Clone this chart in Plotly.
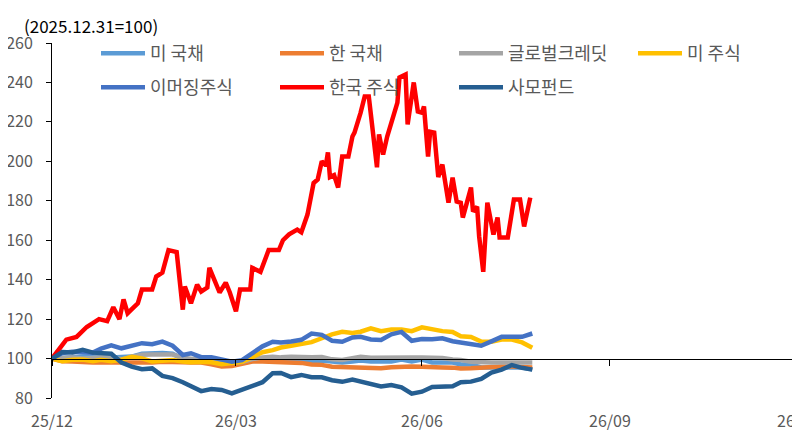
import pandas as pd
import plotly.graph_objects as go

BASE_DATE = pd.Timestamp("2025-12-31")

# common sampling grid (days after 2025-12-31) for the six calmer series
grid_days = [0, 5, 10, 15, 20, 24, 29, 34, 39, 44, 49, 54, 59, 64, 68, 73, 78,
             83, 88, 93, 98, 103, 108, 112, 117, 122, 127, 132, 137, 142, 147,
             151, 156, 161, 166, 171, 176, 181, 186, 191, 196, 200, 205, 210,
             215, 220, 225, 230, 235]

us_bond = [100, 100.5, 101, 101, 101, 100.5, 100.5, 100.5, 101, 102.5, 102.8,
           102.8, 102.5, 99.8, 99.5, 99, 98.5, 98, 97.8, 98, 99, 99.5, 99.8,
           99.5, 99.5, 99, 98.8, 99, 98.5, 98, 98.5, 99, 98.5, 98.5, 98.5,
           99.5, 98.5, 99.5, 98, 98, 98, 97, 97, 95.5, 95.5, 95.5, 95.5, 95.5,
           94.5]

kr_bond = [100, 98.6, 98.5, 98.1, 98, 98, 98, 97.6, 98, 98, 98, 98.4, 98.5,
           98.1, 98, 98, 97.1, 96, 96.2, 97.3, 98.5, 98.5, 98.4, 98, 98, 97.8,
           97, 96.8, 95.9, 95.7, 96, 95.8, 95.4, 95.1, 95.6, 96, 96, 95.9,
           95.5, 95.5, 95.4, 95, 95.1, 95.5, 95.6, 96, 96, 95.9, 95.5]

global_credit = [100, 100.5, 100.5, 100, 100.5, 100.5, 100.5, 99.6, 100.9,
                 101.9, 102, 102, 102, 100.4, 99.9, 99.3, 98.4, 98, 98, 98.2,
                 99.7, 100.6, 100.9, 100.6, 100.9, 100.5, 100.6, 100.8, 99.6,
                 99.3, 99.9, 100.9, 100.4, 100.5, 100.6, 100.9, 100.5, 100.5,
                 100.5, 100.3, 99.5, 99.3, 98.4, 98, 98, 98, 98.1, 98, 98]

us_stock = [100, 98.6, 99.4, 99.5, 98.6, 99.4, 98.6, 99.4, 100.9, 100.1, 98.5,
            98.7, 99.2, 98.5, 98.1, 98.4, 98.1, 97.1, 97.6, 98.4, 100.7, 103.2,
            104.3, 105.6, 106.5, 107.5, 108.3, 110.3, 112.3, 113.6, 113, 113.6,
            115.3, 113.9, 114.7, 114.7, 113.9, 115.8, 114.7, 113.9, 113.5,
            111.3, 110.9, 108.6, 108.5, 109.6, 109.6, 108.2, 105.5]

em_stock = [100, 102.8, 103.5, 103.5, 103, 105, 106.7, 105.2, 106.5, 107.8,
            107.3, 108.6, 106.5, 101.8, 102.7, 100.7, 100.6, 99.3, 98.4, 99.2,
            103, 106.2, 108.5, 108.2, 108.6, 109.5, 112.7, 112, 109, 108.5,
            110.7, 111, 109.7, 109.4, 112.3, 113.5, 109, 109.9, 109.8, 110.3,
            108.8, 108, 107.2, 106.5, 108.7, 111, 111, 111, 112.7]

pe_fund = [100, 103.3, 103.1, 104.4, 103, 102.8, 102.4, 98, 95.9, 94.6, 95,
           91.2, 90.1, 88, 86.1, 83.5, 84.5, 84.1, 82.4, 84.3, 85.7, 88, 92.6,
           92.7, 90.6, 91.7, 90.5, 90.5, 89, 88.2, 89.4, 88.5, 87.2, 85.9,
           86.6, 85.4, 82.2, 83.2, 85.6, 85.7, 86, 88, 88.3, 89.7, 92.9, 94.4,
           96.7, 95.3, 94.4]

# Korean equities move a lot, so they get their own finer set of readings
kr_days = [0, 7, 12, 17, 20, 23, 27, 30, 33, 35, 37, 42, 44, 49, 51, 54, 57,
           61, 64, 65, 68, 71, 73, 76, 77, 82, 85, 87, 90, 92, 97, 98, 102,
           106, 111, 113, 116, 120, 122, 125, 128, 130, 132, 134, 135, 136,
           138, 140, 142, 145, 147, 148, 151, 153, 155, 157, 159, 160, 162,
           164, 169, 170, 173, 174, 176, 177, 179, 181, 182, 184, 185, 187,
           189, 191, 194, 196, 198, 200, 201, 205, 206, 208, 209, 211, 213,
           216, 218, 219, 223, 226, 229, 231, 234]
kr_stock = [100, 109.6, 111, 116, 118, 120, 119, 126, 120, 130, 123, 128, 135,
            135, 141.6, 143.6, 155, 154, 124.8, 136.5, 128, 137.5, 134, 136,
            146, 133.5, 138.5, 133.5, 124, 135, 135, 146, 144, 155, 155, 160,
            163, 165.4, 164, 173, 189, 190.8, 200, 198, 204.5, 192, 193, 186.7,
            202.4, 202.4, 212.6, 214.6, 224.7, 232.9, 232.9, 216, 197, 213.6,
            203.4, 212.6, 229.8, 242.5, 244, 218.7, 232.9, 240, 225.3, 224.7,
            227.8, 202.4, 215, 214.6, 192, 198.4, 179, 191.8, 179.6, 179, 171.5,
            186.7, 174.5, 177, 161.9, 144, 179, 162.9, 171.5, 161.4, 161.4,
            180.6, 180.6, 167, 181.6]

tick_dates = ["2025-12-31", "2026-03-31", "2026-06-30", "2026-09-30", "2026-12-31"]
y_min, y_max = 80, 260

grid_x = BASE_DATE + pd.to_timedelta(grid_days, unit="D")
kr_x = BASE_DATE + pd.to_timedelta(kr_days, unit="D")

series = [
    ("미 국채", grid_x, us_bond, "#5B9BD5", "legend"),
    ("한 국채", grid_x, kr_bond, "#ED7D31", "legend"),
    ("글로벌크레딧", grid_x, global_credit, "#A5A5A5", "legend"),
    ("미 주식", grid_x, us_stock, "#FFC000", "legend"),
    ("이머징주식", grid_x, em_stock, "#4472C4", "legend2"),
    ("한국 주식", kr_x, kr_stock, "#FF0000", "legend2"),
    ("사모펀드", grid_x, pe_fund, "#255E91", "legend2"),
]

FONT = "Noto Sans CJK KR"
GREY = "#595959"
PAGE_PAD = 8  # the page body adds 8px before the figure

fig = go.Figure()
for name, xs, ys, color, leg in series:
    fig.add_trace(
        go.Scatter(
            x=xs,
            y=ys,
            mode="lines",
            name=name,
            legend=leg,
            line=dict(color=color, width=4.5),
        )
    )

legend_style = dict(
    orientation="h",
    xref="container",
    yref="container",
    x=(96 - PAGE_PAD) / 800,
    xanchor="left",
    yanchor="top",
    entrywidth=120,
    entrywidthmode="pixels",
    itemwidth=44,
    font=dict(family=FONT, size=18, color=GREY),
    bgcolor="rgba(0,0,0,0)",
    itemclick=False,
)

fig.update_layout(
    width=800,
    height=440,
    margin=dict(l=52 - PAGE_PAD, r=2 + PAGE_PAD, t=43 - PAGE_PAD,
                b=42 + PAGE_PAD, autoexpand=False),
    plot_bgcolor="white",
    paper_bgcolor="white",
    font=dict(family=FONT, size=16, color=GREY),
    legend=dict(legend_style, y=1 - (35 - PAGE_PAD) / 440),
    legend2=dict(legend_style, y=1 - (69 - PAGE_PAD) / 440),
    xaxis=dict(
        type="date",
        range=[tick_dates[0], tick_dates[-1]],
        tickvals=tick_dates,
        tickformat="%y/%m",
        anchor="free",
        position=(100 - y_min) / (y_max - y_min),
        showline=True,
        linecolor="black",
        linewidth=1,
        ticks="outside",
        ticklen=6,
        tickcolor="black",
        ticklabelstandoff=42,
        ticklabeloverflow="allow",
        showgrid=False,
        zeroline=False,
        automargin=False,
        tickfont=dict(family=FONT, size=16, color=GREY),
    ),
    yaxis=dict(
        range=[y_min, y_max],
        dtick=20,
        showline=True,
        linecolor="black",
        linewidth=1,
        ticks="outside",
        ticklen=5,
        tickcolor="black",
        ticklabelstandoff=10,
        showgrid=False,
        zeroline=False,
        automargin=False,
        tickfont=dict(family=FONT, size=16, color=GREY),
    ),
    annotations=[
        dict(
            text="(2025.12.31=100)",
            xref="paper",
            yref="paper",
            x=-30 / 746,
            y=(398 - 25) / 355,
            xanchor="left",
            yanchor="middle",
            showarrow=False,
            font=dict(family=FONT, size=17, color="black"),
        )
    ],
)

fig.write_html("out.html")
